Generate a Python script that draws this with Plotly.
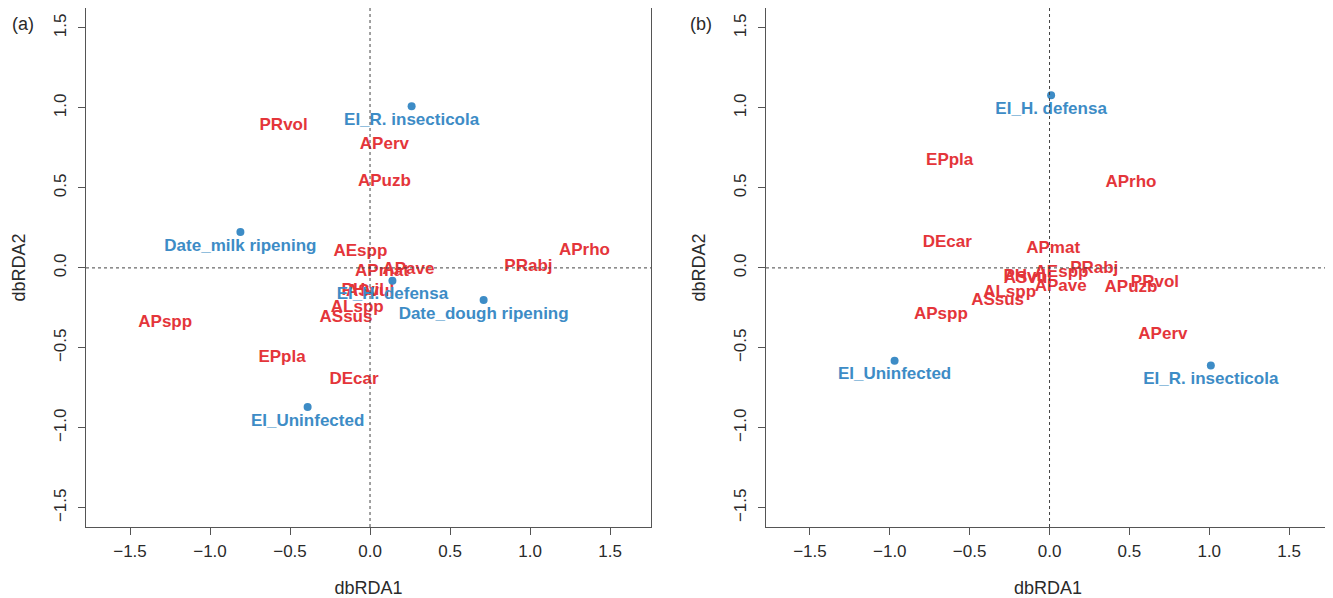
import plotly.graph_objects as go

# ---------------- Panel (a) ----------------
a_env_labels = ["EI_R. insecticola", "Date_milk ripening", "EI_H. defensa",
                "Date_dough ripening", "EI_Uninfected"]
a_env_x = [0.26, -0.81, 0.14, 0.71, -0.39]
a_env_y = [1.01, 0.225, -0.08, -0.20, -0.87]

a_sp_labels = ["PRvol", "APerv", "APuzb", "AEspp", "APave", "APmat", "APrho",
               "PRabj", "PHvil", "ASvul", "ALspp", "ASsus", "APspp", "EPpla", "DEcar"]
a_sp_x = [-0.54, 0.09, 0.09, -0.06, 0.24, 0.075, 1.34,
          0.99, -0.045, 0.0, -0.08, -0.15, -1.28, -0.55, -0.10]
a_sp_y = [0.89, 0.77, 0.54, 0.10, -0.01, -0.025, 0.106,
          0.01, -0.14, -0.15, -0.25, -0.31, -0.34, -0.56, -0.70]

# ---------------- Panel (b) ----------------
b_env_labels = ["EI_H. defensa", "EI_Uninfected", "EI_R. insecticola"]
b_env_x = [0.01, -0.97, 1.01]
b_env_y = [1.08, -0.58, -0.61]

b_sp_labels = ["EPpla", "APrho", "DEcar", "APmat", "PRabj", "AEspp", "PHvil", "ASvul",
               "ALspp", "APave", "ASsus", "APspp", "APuzb", "PRvol", "APerv"]
b_sp_x = [-0.625, 0.51, -0.64, 0.023, 0.28, 0.075, -0.155, -0.135,
          -0.25, 0.07, -0.325, -0.68, 0.51, 0.66, 0.71]
b_sp_y = [0.67, 0.53, 0.16, 0.117, -0.008, -0.03, -0.055, -0.065,
          -0.155, -0.12, -0.205, -0.29, -0.125, -0.09, -0.42]

ticks = [-1.5, -1.0, -0.5, 0.0, 0.5, 1.0, 1.5]
tick_text = ["\u22121.5", "\u22121.0", "\u22120.5", "0.0", "0.5", "1.0", "1.5"]

RED = "#E4353A"
BLUE = "#3D8CC6"
FONT = "Liberation Sans, Arial, sans-serif"

fig = go.Figure()

def add_panel(env_l, env_x, env_y, sp_l, sp_x, sp_y, xa, ya):
    fig.add_trace(go.Scatter(
        x=sp_x, y=sp_y, text=sp_l, mode="text",
        textposition="middle center",
        textfont=dict(color=RED, size=17, family=FONT, weight="bold"),
        xaxis=xa, yaxis=ya, showlegend=False, hoverinfo="skip"))
    fig.add_trace(go.Scatter(
        x=env_x, y=env_y, text=env_l, mode="markers+text",
        textposition="bottom center",
        marker=dict(color=BLUE, size=8),
        textfont=dict(color=BLUE, size=17, family=FONT, weight="bold"),
        xaxis=xa, yaxis=ya, showlegend=False, hoverinfo="skip"))

add_panel(a_env_labels, a_env_x, a_env_y, a_sp_labels, a_sp_x, a_sp_y, "x", "y")
add_panel(b_env_labels, b_env_x, b_env_y, b_sp_labels, b_sp_x, b_sp_y, "x2", "y2")

axis_common = dict(
    showgrid=False, zeroline=False, showline=True, mirror=True,
    linecolor="#555555", linewidth=1, ticks="outside", ticklen=7,
    tickcolor="#555555", tickvals=ticks, ticktext=tick_text,
    tickfont=dict(size=17, color="#2a2a2a", family=FONT),
)
title_font = dict(size=18, color="#2a2a2a", family=FONT)

# page body adds an 8px offset, so the figure is sized to fit the window
W, H = 1325, 590
ML, MR, MT, MB = 78, 3, 0, 71
PW = W - ML - MR

XR = [-1.775, 1.756]
YR = [-1.62, 1.625]

fig.update_layout(
    width=W, height=H,
    margin=dict(l=ML, r=MR, t=MT, b=MB),
    plot_bgcolor="white", paper_bgcolor="white",
    xaxis=dict(domain=[0, 565 / PW], range=XR, ticklabelstandoff=2,
               title=dict(text="dbRDA1", font=title_font, standoff=21),
               **axis_common),
    yaxis=dict(domain=[0, 1], range=YR, tickangle=-90, ticklabelstandoff=5,
               title=dict(text="dbRDA2", font=title_font, standoff=20),
               **axis_common),
    xaxis2=dict(domain=[680 / PW, 1.0], range=XR, anchor="y2", ticklabelstandoff=2,
                title=dict(text="dbRDA1", font=title_font, standoff=21),
                **axis_common),
    yaxis2=dict(domain=[0, 1], range=YR, anchor="x2", tickangle=-90, ticklabelstandoff=5,
                title=dict(text="dbRDA2", font=title_font, standoff=20),
                **axis_common),
)

# dotted reference lines at zero
for xr, yr in [("x", "y"), ("x2", "y2")]:
    fig.add_shape(type="line", xref=xr, yref=yr + " domain", x0=0, x1=0, y0=0, y1=1,
                  line=dict(color="#444444", width=1, dash="dot"))
    fig.add_shape(type="line", xref=xr + " domain", yref=yr, x0=0, x1=1, y0=0, y1=0,
                  line=dict(color="#444444", width=1, dash="dot"))

PH = H - MT - MB
fig.add_annotation(text="(a)", xref="paper", yref="paper", x=(2 - ML) / PW, y=1 - 4 / PH,
                   xanchor="left", yanchor="top", showarrow=False,
                   font=dict(size=18, color="#2a2a2a", family=FONT))
fig.add_annotation(text="(b)", xref="paper", yref="paper", x=(680 - ML) / PW, y=1 - 4 / PH,
                   xanchor="left", yanchor="top", showarrow=False,
                   font=dict(size=18, color="#2a2a2a", family=FONT))

fig.write_html("out.html")
